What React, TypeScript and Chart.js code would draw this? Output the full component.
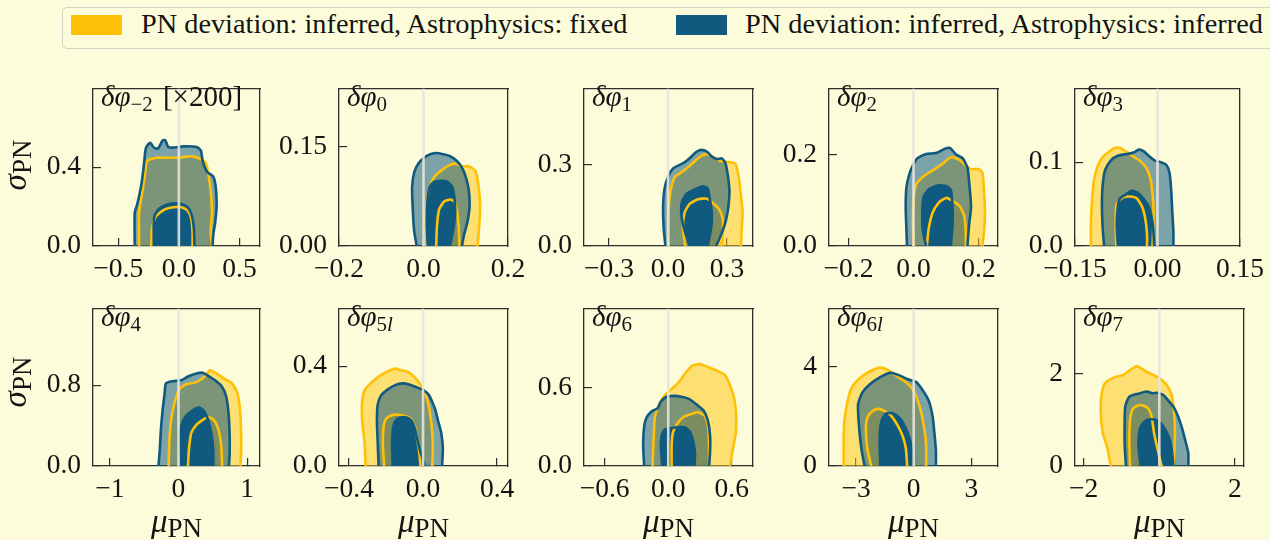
import React, { useEffect, useRef } from "react";
import { Chart, registerables } from "chart.js";

Chart.register(...registerables);

type Pt = [number, number];

// ---------------- contour outlines (μ_PN, σ_PN) ----------------
// δφ−2 [×200]
const m2GoldOuter: Pt[] = [[-0.328,0],[-0.328,0.170],[-0.300,0.281],[-0.278,0.368],[-0.262,0.432],[-0.185,0.448],[-0.074,0.448],[0.022,0.451],[0.105,0.456],[0.174,0.443],[0.223,0.421],[0.245,0.360],[0.262,0.281],[0.273,0.170],[0.262,0.075],[0.273,0]];
const m2GoldInner: Pt[] = [[-0.228,0],[-0.222,0.090],[-0.190,0.150],[-0.120,0.185],[-0.047,0.197],[0.022,0.197],[0.072,0.181],[0.102,0.138],[0.113,0.067],[0.113,0]];
const m2BlueOuter: Pt[] = [[-0.364,0],[-0.364,0.170],[-0.344,0.210],[-0.309,0.313],[-0.289,0.408],[-0.273,0.495],[-0.253,0.516],[-0.234,0.524],[-0.207,0.500],[-0.171,0.495],[-0.135,0.535],[-0.113,0.538],[-0.088,0.503],[-0.047,0.500],[0.036,0.506],[0.146,0.503],[0.182,0.484],[0.196,0.432],[0.234,0.376],[0.284,0.352],[0.306,0.289],[0.311,0.202],[0.300,0.122],[0.284,0.059],[0.278,0]];
const m2BlueInner: Pt[] = [[-0.205,0],[-0.208,0.090],[-0.200,0.154],[-0.163,0.189],[-0.107,0.208],[-0.041,0.217],[0.022,0.213],[0.077,0.194],[0.107,0.154],[0.124,0.090],[0.129,0]];

// δφ0
const p0GoldOuter: Pt[] = [[0.006,0],[0.004,0.036],[0.008,0.069],[0.016,0.092],[0.028,0.106],[0.043,0.114],[0.059,0.121],[0.075,0.124],[0.091,0.120],[0.107,0.120],[0.123,0.113],[0.130,0.092],[0.134,0.060],[0.132,0.031],[0.128,0]];
const p0GoldInner: Pt[] = [[0.030,0],[0.032,0.031],[0.037,0.055],[0.049,0.067],[0.063,0.070],[0.073,0.067],[0.079,0.055],[0.083,0.031],[0.085,0]];
const p0BlueOuter: Pt[] = [[-0.016,0],[-0.022,0.022],[-0.025,0.050],[-0.027,0.088],[-0.022,0.111],[-0.012,0.124],[0.002,0.133],[0.016,0.138],[0.032,0.140],[0.047,0.138],[0.063,0.135],[0.079,0.128],[0.091,0.118],[0.099,0.106],[0.107,0.085],[0.109,0.060],[0.104,0.036],[0.096,0.017],[0.091,0]];
const p0BlueInner: Pt[] = [[0.010,0],[0.008,0.031],[0.009,0.064],[0.014,0.088],[0.024,0.096],[0.040,0.098],[0.055,0.097],[0.067,0.090],[0.073,0.074],[0.075,0.050],[0.071,0.027],[0.063,0]];

// δφ1
const p1GoldOuter: Pt[] = [[0.003,0],[0.003,0.123],[0.013,0.203],[0.034,0.254],[0.067,0.271],[0.101,0.289],[0.135,0.312],[0.169,0.332],[0.199,0.338],[0.233,0.326],[0.270,0.312],[0.312,0.309],[0.342,0.304],[0.358,0.260],[0.368,0.203],[0.379,0.123],[0.374,0.054],[0.371,0]];
const p1GoldInner: Pt[] = [[0.088,0],[0.076,0.065],[0.084,0.123],[0.110,0.155],[0.152,0.172],[0.199,0.174],[0.233,0.155],[0.261,0.134],[0.278,0.100],[0.278,0.042],[0.273,0]];
const p1BlueOuter: Pt[] = [[-0.013,0],[-0.022,0.065],[-0.025,0.145],[-0.017,0.214],[0.003,0.260],[0.025,0.285],[0.054,0.297],[0.084,0.308],[0.110,0.323],[0.143,0.346],[0.169,0.354],[0.199,0.347],[0.223,0.329],[0.250,0.320],[0.273,0.323],[0.292,0.304],[0.304,0.260],[0.312,0.203],[0.307,0.145],[0.292,0.088],[0.270,0.042],[0.245,0]];
const p1BlueInner: Pt[] = [[0.110,0],[0.081,0.065],[0.067,0.123],[0.073,0.168],[0.098,0.194],[0.135,0.208],[0.177,0.220],[0.202,0.212],[0.211,0.180],[0.223,0.123],[0.219,0.065],[0.202,0]];

// δφ2
const p2GoldOuter: Pt[] = [[0.000,0],[-0.002,0.052],[0.000,0.100],[0.008,0.134],[0.029,0.151],[0.059,0.165],[0.090,0.180],[0.115,0.194],[0.141,0.188],[0.161,0.176],[0.177,0.168],[0.200,0.168],[0.212,0.160],[0.217,0.120],[0.220,0.073],[0.217,0.032],[0.212,0]];
const p2GoldInner: Pt[] = [[0.041,0],[0.047,0.039],[0.059,0.073],[0.078,0.095],[0.100,0.105],[0.115,0.101],[0.141,0.088],[0.156,0.066],[0.161,0.032],[0.161,0]];
const p2BlueOuter: Pt[] = [[-0.020,0],[-0.022,0.039],[-0.024,0.086],[-0.022,0.127],[-0.014,0.154],[-0.002,0.176],[0.013,0.192],[0.039,0.201],[0.069,0.203],[0.095,0.212],[0.112,0.214],[0.131,0.200],[0.151,0.192],[0.166,0.171],[0.171,0.141],[0.177,0.086],[0.171,0.046],[0.166,0]];
const p2BlueInner: Pt[] = [[0.039,0],[0.029,0.032],[0.027,0.073],[0.031,0.107],[0.047,0.124],[0.074,0.132],[0.100,0.131],[0.115,0.122],[0.120,0.086],[0.120,0.046],[0.115,0]];

// δφ3
const p3GoldOuter: Pt[] = [[-0.121,0],[-0.121,0.029],[-0.119,0.055],[-0.116,0.077],[-0.109,0.095],[-0.100,0.106],[-0.089,0.112],[-0.078,0.117],[-0.068,0.117],[-0.058,0.113],[-0.044,0.107],[-0.031,0.101],[-0.021,0.094],[-0.013,0.081],[-0.009,0.062],[-0.007,0.040],[-0.008,0.017],[-0.009,0]];
const p3GoldInner: Pt[] = [[-0.075,0],[-0.076,0.025],[-0.075,0.047],[-0.071,0.053],[-0.062,0.058],[-0.050,0.059],[-0.038,0.057],[-0.028,0.047],[-0.022,0.032],[-0.019,0.014],[-0.019,0]];
const p3BlueOuter: Pt[] = [[-0.097,0],[-0.100,0.025],[-0.101,0.055],[-0.099,0.077],[-0.095,0.091],[-0.085,0.102],[-0.071,0.108],[-0.053,0.110],[-0.042,0.112],[-0.034,0.115],[-0.025,0.113],[-0.015,0.107],[-0.005,0.102],[0.006,0.100],[0.016,0.097],[0.022,0.087],[0.025,0.066],[0.027,0.040],[0.029,0.017],[0.029,0]];
const p3BlueInner: Pt[] = [[-0.072,0],[-0.074,0.025],[-0.072,0.047],[-0.068,0.057],[-0.059,0.061],[-0.047,0.066],[-0.037,0.064],[-0.026,0.057],[-0.016,0.047],[-0.010,0.032],[-0.007,0.014],[-0.006,0]];

// δφ4
const p4GoldOuter: Pt[] = [[-0.143,0],[-0.133,0.238],[-0.108,0.454],[-0.059,0.624],[0.015,0.763],[0.113,0.809],[0.261,0.831],[0.369,0.880],[0.458,0.948],[0.532,0.924],[0.655,0.871],[0.778,0.819],[0.852,0.732],[0.892,0.578],[0.911,0.331],[0.911,0.145],[0.901,0]];
const p4GoldInner: Pt[] = [[0.138,0],[0.153,0.176],[0.187,0.330],[0.261,0.408],[0.360,0.460],[0.433,0.485],[0.517,0.454],[0.581,0.361],[0.621,0.207],[0.635,0]];
const p4BlueOuter: Pt[] = [[-0.291,0],[-0.271,0.176],[-0.256,0.361],[-0.232,0.547],[-0.202,0.717],[-0.182,0.819],[-0.084,0.840],[0.039,0.849],[0.138,0.886],[0.261,0.917],[0.350,0.924],[0.433,0.893],[0.532,0.849],[0.631,0.788],[0.695,0.686],[0.729,0.516],[0.744,0.300],[0.744,0.114],[0.734,0]];
const p4BlueInner: Pt[] = [[0.039,0],[0.025,0.207],[0.039,0.392],[0.089,0.479],[0.187,0.541],[0.296,0.578],[0.369,0.547],[0.433,0.454],[0.483,0.300],[0.507,0.145],[0.507,0]];

// δφ5l
const p5GoldOuter: Pt[] = [[-0.311,0],[-0.316,0.096],[-0.329,0.184],[-0.329,0.259],[-0.316,0.303],[-0.288,0.328],[-0.249,0.353],[-0.204,0.374],[-0.151,0.390],[-0.121,0.384],[-0.085,0.378],[-0.050,0.359],[-0.018,0.331],[0.009,0.296],[0.027,0.253],[0.041,0.196],[0.050,0.134],[0.053,0.071],[0.050,0]];
const p5GoldInner: Pt[] = [[-0.210,0],[-0.217,0.084],[-0.213,0.159],[-0.199,0.190],[-0.169,0.203],[-0.139,0.206],[-0.103,0.201],[-0.068,0.190],[-0.044,0.159],[-0.032,0.109],[-0.021,0.059],[-0.014,0]];
const p5BlueOuter: Pt[] = [[-0.240,0],[-0.245,0.096],[-0.249,0.178],[-0.245,0.246],[-0.228,0.281],[-0.192,0.306],[-0.151,0.324],[-0.110,0.331],[-0.071,0.326],[-0.032,0.315],[0.004,0.303],[0.032,0.284],[0.050,0.256],[0.068,0.221],[0.082,0.178],[0.098,0.134],[0.107,0.071],[0.103,0]];
const p5BlueInner: Pt[] = [[-0.164,0],[-0.167,0.084],[-0.162,0.153],[-0.149,0.181],[-0.124,0.194],[-0.089,0.194],[-0.062,0.180],[-0.043,0.146],[-0.028,0.096],[-0.010,0.046],[0.010,0]];

// δφ6
const p6GoldOuter: Pt[] = [[-0.148,0],[-0.139,0.183],[-0.126,0.374],[-0.088,0.469],[-0.032,0.540],[0.025,0.583],[0.095,0.636],[0.164,0.712],[0.227,0.767],[0.300,0.779],[0.379,0.755],[0.467,0.726],[0.537,0.693],[0.575,0.631],[0.616,0.540],[0.638,0.421],[0.638,0.255],[0.606,0.112],[0.584,0]];
const p6GoldInner: Pt[] = [[0.032,0],[0.032,0.160],[0.044,0.255],[0.088,0.326],[0.142,0.374],[0.205,0.393],[0.278,0.410],[0.341,0.386],[0.373,0.314],[0.385,0.183],[0.385,0]];
const p6BlueOuter: Pt[] = [[-0.227,0],[-0.237,0.160],[-0.227,0.302],[-0.205,0.369],[-0.158,0.417],[-0.101,0.440],[-0.069,0.493],[-0.016,0.529],[0.057,0.536],[0.126,0.529],[0.196,0.512],[0.268,0.469],[0.332,0.426],[0.373,0.350],[0.395,0.231],[0.395,0.112],[0.385,0]];
const p6BlueInner: Pt[] = [[-0.057,0],[-0.069,0.136],[-0.063,0.231],[-0.032,0.279],[0.032,0.290],[0.101,0.298],[0.158,0.295],[0.205,0.260],[0.237,0.183],[0.253,0.088],[0.246,0]];

// δφ6l
const p6lGoldOuter: Pt[] = [[-3.648,0],[-3.648,0.972],[-3.613,1.792],[-3.477,2.486],[-3.273,3.091],[-2.966,3.432],[-2.591,3.685],[-2.165,3.874],[-1.824,3.975],[-1.483,3.937],[-1.142,3.773],[-0.801,3.596],[-0.409,3.394],[-0.068,3.117],[0.170,2.738],[0.392,2.170],[0.562,1.476],[0.648,0.845],[0.648,0]];
const p6lGoldInner: Pt[] = [[-2.216,0],[-2.420,0.719],[-2.489,1.603],[-2.386,2.006],[-2.114,2.233],[-1.824,2.309],[-1.483,2.208],[-1.193,2.044],[-0.852,1.666],[-0.580,1.224],[-0.409,0.719],[-0.341,0]];
const p6lBlueOuter: Pt[] = [[-2.557,0],[-2.727,0.719],[-2.846,1.603],[-2.898,2.486],[-2.676,2.965],[-2.284,3.306],[-1.739,3.596],[-1.227,3.773],[-0.801,3.685],[-0.341,3.521],[0.136,3.394],[0.443,3.091],[0.784,2.637],[0.989,1.981],[1.091,1.224],[1.159,0.593],[1.159,0]];
const p6lBlueInner: Pt[] = [[-1.739,0],[-1.773,0.845],[-1.739,1.603],[-1.602,1.956],[-1.398,2.132],[-1.091,2.132],[-0.750,1.956],[-0.460,1.603],[-0.205,1.098],[-0.068,0.467],[-0.034,0]];

// δφ7
const p7GoldOuter: Pt[] = [[-1.286,0],[-1.374,0.384],[-1.498,0.721],[-1.551,1.192],[-1.524,1.562],[-1.436,1.785],[-1.198,1.912],[-0.952,1.966],[-0.758,2.081],[-0.599,2.155],[-0.467,2.101],[-0.335,2.034],[-0.159,1.966],[0.035,1.879],[0.211,1.731],[0.326,1.529],[0.388,1.192],[0.414,0.721],[0.396,0.316],[0.370,0]];
const p7GoldInner: Pt[] = [[-0.775,0],[-0.793,0.519],[-0.775,0.990],[-0.705,1.226],[-0.555,1.313],[-0.405,1.300],[-0.264,1.205],[-0.194,1.024],[-0.141,0.721],[-0.053,0.384],[0.062,0]];
const p7BlueOuter: Pt[] = [[-0.881,0],[-0.916,0.451],[-0.916,0.923],[-0.899,1.293],[-0.793,1.495],[-0.555,1.562],[-0.335,1.609],[-0.176,1.569],[-0.053,1.582],[0.106,1.529],[0.247,1.407],[0.388,1.259],[0.502,1.057],[0.599,0.822],[0.687,0.552],[0.767,0.283],[0.767,0]];
const p7BlueInner: Pt[] = [[-0.493,0],[-0.546,0.384],[-0.537,0.721],[-0.467,0.889],[-0.335,0.990],[-0.176,1.010],[-0.026,0.976],[0.106,0.855],[0.238,0.653],[0.326,0.384],[0.370,0]];

// ---------------- panel labels, ranges and ticks ----------------
const PANEL_SUBS = ["−2", "0", "1", "2", "3", "4", "5l", "6", "6l", "7"];
const PANEL_SUFFIX = ["[×200]", "", "", "", "", "", "", "", "", ""];
const X_MIN = [-0.708, -0.2, -0.427, -0.26, -0.15, -1.244, -0.454, -0.795, -4.41, -2.23];
const X_MAX = [0.669, 0.2, 0.432, 0.26, 0.15, 1.186, 0.459, 0.8, 4.39, 2.24];
const Y_MAX = [0.8, 0.237, 0.58, 0.344, 0.188, 1.56, 0.631, 1.203, 6.37, 3.4];
const X_TICKS = [[-0.5, 0, 0.5], [-0.2, 0, 0.2], [-0.3, 0, 0.3], [-0.2, 0, 0.2], [-0.15, 0, 0.15], [-1, 0, 1], [-0.4, 0, 0.4], [-0.6, 0, 0.6], [-3, 0, 3], [-2, 0, 2]];
const X_TICK_LABELS = [["−0.5", "0.0", "0.5"], ["−0.2", "0.0", "0.2"], ["−0.3", "0.0", "0.3"], ["−0.2", "0.0", "0.2"], ["−0.15", "0.00", "0.15"], ["−1", "0", "1"], ["−0.4", "0.0", "0.4"], ["−0.6", "0.0", "0.6"], ["−3", "0", "3"], ["−2", "0", "2"]];
const Y_TICKS = [[0, 0.4], [0, 0.15], [0, 0.3], [0, 0.2], [0, 0.1], [0, 0.8], [0, 0.4], [0, 0.6], [0, 4], [0, 2]];
const Y_TICK_LABELS = [["0.0", "0.4"], ["0.00", "0.15"], ["0.0", "0.3"], ["0.0", "0.2"], ["0.0", "0.1"], ["0.0", "0.8"], ["0.0", "0.4"], ["0.0", "0.6"], ["0", "4"], ["0", "2"]];

const CONTOURS: Pt[][][] = [
  [m2GoldOuter, m2GoldInner, m2BlueOuter, m2BlueInner],
  [p0GoldOuter, p0GoldInner, p0BlueOuter, p0BlueInner],
  [p1GoldOuter, p1GoldInner, p1BlueOuter, p1BlueInner],
  [p2GoldOuter, p2GoldInner, p2BlueOuter, p2BlueInner],
  [p3GoldOuter, p3GoldInner, p3BlueOuter, p3BlueInner],
  [p4GoldOuter, p4GoldInner, p4BlueOuter, p4BlueInner],
  [p5GoldOuter, p5GoldInner, p5BlueOuter, p5BlueInner],
  [p6GoldOuter, p6GoldInner, p6BlueOuter, p6BlueInner],
  [p6lGoldOuter, p6lGoldInner, p6lBlueOuter, p6lBlueInner],
  [p7GoldOuter, p7GoldInner, p7BlueOuter, p7BlueInner],
];

const LEGEND_LABELS = ["PN deviation: inferred, Astrophysics: fixed", "PN deviation: inferred, Astrophysics: inferred"];

// ---------------- styling / layout ----------------
const BG = "rgb(253,252,218)";
const INK = "#141414";
const FRAME = "#2e2e2e";
const GOLD = "#ffc107";
const BLUE = "#10597f";
const GOLD_FILL_OUT = "rgba(255,193,7,0.5)";
const GOLD_FILL_IN = "rgba(255,193,7,0.5)";
const BLUE_FILL_OUT = "rgba(16,89,127,0.55)";
const BLUE_FILL_IN = "rgba(16,89,127,1)";
const ZERO = "rgba(232,230,220,0.9)";
const SERIF = '"Liberation Serif", serif';

const COL_LEFT = [93, 339, 584, 829, 1075];
const COL_W = [167, 169, 169, 169, 169];
const ROW_TOP = [77, 297];
const PLOT_H = 169;
const AX_W = 90;
const AX_H = 50;
const PAD_T = 25;
const PAD_R = 35;
const TICK_FONT = 27.5;

function Panel({ idx }: { idx: number }) {
  const ref = useRef<HTMLCanvasElement>(null);
  const col = idx % 5;
  const row = Math.floor(idx / 5);
  const plotL = COL_LEFT[col];
  const plotT = ROW_TOP[row];
  const plotW = COL_W[col];
  const cw = AX_W + plotW + PAD_R;
  const ch = PAD_T + PLOT_H + AX_H;

  useEffect(() => {
    if (!ref.current) return;
    const [gO, gI, bO, bI] = CONTOURS[idx];
    const fillDs = (data: Pt[], color: string) => ({
      data, fill: "shape", backgroundColor: color, borderWidth: 0, pointRadius: 0, tension: 0.2,
    });
    const lineDs = (data: Pt[], color: string) => ({
      data, fill: false, borderColor: color, borderWidth: 2.6, pointRadius: 0, tension: 0.2,
      borderJoinStyle: "round", borderCapStyle: "round",
    });
    const list: any[] = [
      fillDs(gO, GOLD_FILL_OUT),
      fillDs(gI, GOLD_FILL_IN),
      fillDs(bO, BLUE_FILL_OUT),
      fillDs(bI, BLUE_FILL_IN),
      lineDs(gO, GOLD),
      lineDs(gI, GOLD),
      lineDs(bO, BLUE),
      lineDs(bI, BLUE),
      { data: [[0, 0], [0, Y_MAX[idx]]], fill: false, borderColor: ZERO, borderWidth: 2.6, pointRadius: 0, tension: 0 },
    ];
    list.forEach((d, i) => { d.order = list.length - i; });

    const tickFont = { family: SERIF, size: TICK_FONT };
    const xt = X_TICKS[idx];
    const yt = Y_TICKS[idx];
    const hideZero = (c: any) => (c.tick && c.tick.value === 0 ? "rgba(0,0,0,0)" : FRAME);

    const chart = new Chart(ref.current, {
      type: "line",
      data: { datasets: list },
      options: {
        animation: false,
        responsive: false,
        maintainAspectRatio: false,
        events: [],
        layout: { padding: { left: 0, top: PAD_T, right: PAD_R, bottom: 0 } },
        plugins: { legend: { display: false }, tooltip: { enabled: false } },
        scales: {
          x: {
            type: "linear", position: "bottom", min: X_MIN[idx], max: X_MAX[idx], z: 1,
            afterBuildTicks: (s: any) => { s.ticks = xt.map((v) => ({ value: v })); },
            afterFit: (s: any) => { s.height = AX_H; },
            ticks: {
              font: tickFont, color: INK, padding: 15, maxRotation: 0, autoSkip: false,
              callback: (v: any) => X_TICK_LABELS[idx][xt.indexOf(Number(v))] ?? "",
            },
            grid: { display: true, drawOnChartArea: false, drawTicks: true, tickLength: -8, color: hideZero, tickColor: hideZero, lineWidth: 1.2 },
            border: { display: true, color: FRAME, width: 1.3 },
          },
          y: {
            type: "linear", position: "left", min: 0, max: Y_MAX[idx], z: 1,
            afterBuildTicks: (s: any) => { s.ticks = yt.map((v) => ({ value: v })); },
            afterFit: (s: any) => { s.width = AX_W; },
            ticks: {
              font: tickFont, color: INK, padding: 20, autoSkip: false,
              callback: (v: any) => Y_TICK_LABELS[idx][yt.indexOf(Number(v))] ?? "",
            },
            grid: { display: true, drawOnChartArea: false, drawTicks: true, tickLength: -8, color: FRAME, lineWidth: 1.2 },
            border: { display: true, color: FRAME, width: 1.3 },
          },
          xTop: {
            type: "linear", position: "top", min: X_MIN[idx], max: X_MAX[idx], z: 1,
            afterFit: (s: any) => { s.height = 0; },
            ticks: { display: false }, grid: { display: false, drawTicks: false },
            border: { display: true, color: FRAME, width: 1.3 },
          },
          yRight: {
            type: "linear", position: "right", min: 0, max: Y_MAX[idx], z: 1,
            afterFit: (s: any) => { s.width = 0; },
            ticks: { display: false }, grid: { display: false, drawTicks: false },
            border: { display: true, color: FRAME, width: 1.3 },
          },
        },
      } as any,
    });
    return () => chart.destroy();
  }, [idx]);

  return (
    <canvas
      ref={ref}
      width={cw}
      height={ch}
      style={{ position: "absolute", left: plotL - AX_W, top: plotT - PAD_T, width: cw, height: ch }}
    />
  );
}

function PanelLabel({ idx }: { idx: number }) {
  const col = idx % 5;
  const row = Math.floor(idx / 5);
  const sub = PANEL_SUBS[idx];
  const subNode = sub.endsWith("l") ? (<>{sub.slice(0, -1)}<i>l</i></>) : sub;
  return (
    <div style={{ position: "absolute", left: COL_LEFT[col] + 8, top: ROW_TOP[row] + 5, fontSize: 29, lineHeight: "29px", whiteSpace: "nowrap", color: INK }}>
      <i>δφ</i>
      <span style={{ fontSize: 21, verticalAlign: "-5px" }}>{subNode}</span>
      {PANEL_SUFFIX[idx] ? <span style={{ marginLeft: 10 }}>{PANEL_SUFFIX[idx]}</span> : null}
    </div>
  );
}

function Legend() {
  return (
    <>
      <div style={{ position: "absolute", left: 62, top: 7, width: 1240, height: 42, border: "1.5px solid #d3d2c0", borderRadius: 5, boxSizing: "border-box" }} />
      <div style={{ position: "absolute", left: 71, top: 15, width: 51, height: 20, background: GOLD }} />
      <div style={{ position: "absolute", left: 141, top: 10, fontSize: 28.3, lineHeight: "28px", whiteSpace: "nowrap", color: INK }}>{LEGEND_LABELS[0]}</div>
      <div style={{ position: "absolute", left: 676, top: 15, width: 51, height: 20, background: BLUE }} />
      <div style={{ position: "absolute", left: 745, top: 10, fontSize: 28.3, lineHeight: "28px", whiteSpace: "nowrap", color: INK }}>{LEGEND_LABELS[1]}</div>
    </>
  );
}

export default function App() {
  useEffect(() => {
    document.body.style.margin = "0";
    document.body.style.background = BG;
  }, []);
  const rowCenters = [165, 382];
  return (
    <div style={{ position: "absolute", left: 0, top: 0, width: 1270, height: 540, overflow: "hidden", background: BG, fontFamily: SERIF, color: INK }}>
      <Legend />
      {PANEL_SUBS.map((_, i) => <Panel key={"p" + i} idx={i} />)}
      {PANEL_SUBS.map((_, i) => <PanelLabel key={"l" + i} idx={i} />)}
      {rowCenters.map((cy, r) => (
        <div key={"s" + r} style={{ position: "absolute", left: 19, top: cy, transform: "translate(-50%, -50%) rotate(-90deg)", fontSize: 33, lineHeight: "33px", whiteSpace: "nowrap" }}>
          <i>σ</i><span style={{ fontSize: 27, verticalAlign: "-5px" }}>PN</span>
        </div>
      ))}
      {COL_LEFT.map((l, c) => (
        <div key={"m" + c} style={{ position: "absolute", left: l + COL_W[c] / 2, top: 505, transform: "translateX(-50%)", fontSize: 33, lineHeight: "33px", whiteSpace: "nowrap" }}>
          <i>μ</i><span style={{ fontSize: 27, verticalAlign: "-5px" }}>PN</span>
        </div>
      ))}
    </div>
  );
}
